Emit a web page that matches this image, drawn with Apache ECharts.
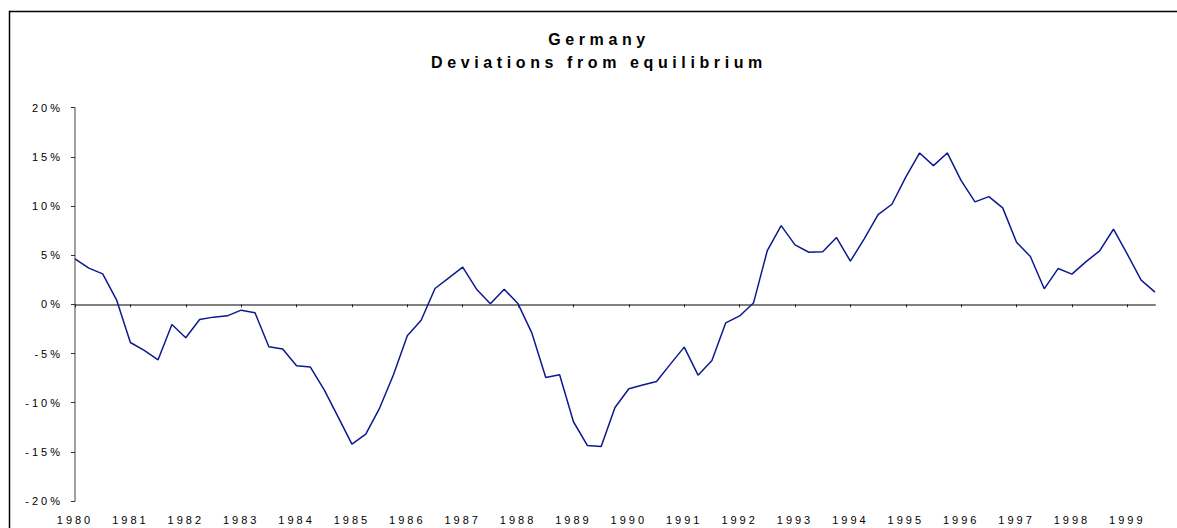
<!DOCTYPE html>
<html>
<head>
<meta charset="utf-8">
<style>
  html, body { margin: 0; padding: 0; background: #fff; overflow: hidden; }
  #chart { width: 1177px; height: 528px; }
  #chart svg text { letter-spacing: 3px; }
  #chart svg text[style*="bold"] { letter-spacing: 4.6px; }
</style>
<script src="https://cdn.jsdelivr.net/npm/echarts@6/dist/echarts.min.js"></script>
</head>
<body>
<div id="chart"></div>
<script>
// Year tick labels (one label per year, data is quarterly)
var years = ['1980','1981','1982','1983','1984','1985','1986','1987','1988','1989',
             '1990','1991','1992','1993','1994','1995','1996','1997','1998','1999'];
var quarters = ['Q1','Q2','Q3','Q4'];
// Deviation from equilibrium, %, quarterly 1980Q1 .. 1999Q3
var deviation = [
  4.62, 3.68, 3.10, 0.46,
  -3.88, -4.69, -5.64, -2.05,
  -3.40, -1.54, -1.30, -1.17,
  -0.59, -0.86, -4.32, -4.55,
  -6.25, -6.38, -8.69, -11.45,
  -14.21, -13.19, -10.55, -7.16,
  -3.20, -1.61, 1.61, 2.69,
  3.78, 1.54, 0.05, 1.54,
  0.05, -2.93, -7.43, -7.16,
  -11.94, -14.35, -14.45, -10.49,
  -8.59, -8.21, -7.84, -6.08,
  -4.35, -7.20, -5.71, -1.88,
  -1.18, 0.13, 5.47, 8.01,
  6.05, 5.30, 5.34, 6.79,
  4.39, 6.66, 9.13, 10.18,
  12.93, 15.40, 14.11, 15.40,
  12.58, 10.42, 10.96, 9.81,
  6.32, 4.86, 1.58, 3.64,
  3.07, 4.32, 5.44, 7.64,
  5.10, 2.46, 1.24
];
var yTicks = [-20, -15, -10, -5, 0, 5, 10, 15, 20];

var categories = [];
years.forEach(function (y) {
  quarters.forEach(function (q) { categories.push(y + ' ' + q); });
});
categories = categories.slice(0, deviation.length);

var chart = echarts.init(document.getElementById('chart'), null, { renderer: 'svg' });
var fontFam = 'Arial, "Liberation Sans", sans-serif';

chart.setOption({
  animation: false,
  backgroundColor: '#fff',
  title: {
    text: 'Germany\nDeviations from equilibrium',
    left: 599,
    top: 28,
    textAlign: 'center',
    padding: 0,
    textStyle: {
      fontFamily: fontFam,
      fontSize: 16,
      fontWeight: 'bold',
      color: '#000',
      lineHeight: 23
    }
  },
  graphic: [{
    type: 'line',
    shape: { x1: 9.5, y1: 11.5, x2: 1200, y2: 11.5 },
    style: { stroke: '#000', lineWidth: 1.5, lineCap: 'butt' },
    silent: true
  }, {
    type: 'line',
    shape: { x1: 9.5, y1: 10.75, x2: 9.5, y2: 560 },
    style: { stroke: '#000', lineWidth: 1.5, lineCap: 'butt' },
    silent: true
  }],
  grid: { left: 75, right: 22, top: 107.7, bottom: 27, containLabel: false },
  xAxis: [{
    type: 'category',
    data: categories,
    boundaryGap: false,
    position: 'bottom',
    axisLine: { show: false, onZero: false },
    axisTick: { show: false },
    axisLabel: {
      interval: 3,
      margin: 13,
      fontFamily: fontFam,
      fontSize: 11,
      color: '#000',
      formatter: function (v) { return v.slice(0, 4); }
    },
    splitLine: { show: false }
  }, {
    type: 'category',
    data: categories,
    boundaryGap: false,
    position: 'bottom',
    axisLine: { show: true, onZero: true, lineStyle: { color: '#7f7f7f', width: 2 } },
    axisTick: { show: true, interval: 3, length: 3, inside: false, lineStyle: { color: '#222', width: 1 } },
    axisLabel: { show: false },
    splitLine: { show: false }
  }],
  yAxis: {
    type: 'value',
    min: yTicks[0],
    max: yTicks[yTicks.length - 1],
    interval: 5,
    axisLine: { show: true, lineStyle: { color: '#7f7f7f', width: 1.5 } },
    axisTick: { show: true, length: 4, lineStyle: { color: '#333', width: 1 } },
    axisLabel: {
      margin: 12,
      fontFamily: fontFam,
      fontSize: 11,
      color: '#000',
      formatter: '{value}%'
    },
    splitLine: { show: false }
  },
  series: [{
    type: 'line',
    xAxisIndex: 1,
    data: deviation,
    symbol: 'none',
    lineStyle: { color: '#0c1a8e', width: 1.5 },
    z: 3
  }]
});
</script>
</body>
</html>
